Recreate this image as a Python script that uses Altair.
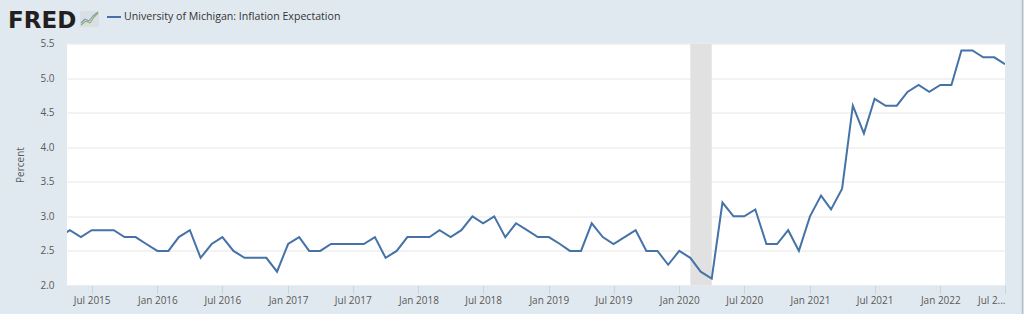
import altair as alt
import pandas as pd

# Monthly observations (first of month), Apr 2015 - Jul 2022
start_month = "2015-04-01"
values = [
    # 2015 Apr-Dec
    2.7, 2.8, 2.7, 2.8, 2.8, 2.8, 2.7, 2.7, 2.6,
    # 2016
    2.5, 2.5, 2.7, 2.8, 2.4, 2.6, 2.7, 2.5, 2.4, 2.4, 2.4, 2.2,
    # 2017
    2.6, 2.7, 2.5, 2.5, 2.6, 2.6, 2.6, 2.6, 2.7, 2.4, 2.5, 2.7,
    # 2018
    2.7, 2.7, 2.8, 2.7, 2.8, 3.0, 2.9, 3.0, 2.7, 2.9, 2.8, 2.7,
    # 2019
    2.7, 2.6, 2.5, 2.5, 2.9, 2.7, 2.6, 2.7, 2.8, 2.5, 2.5, 2.3,
    # 2020
    2.5, 2.4, 2.2, 2.1, 3.2, 3.0, 3.0, 3.1, 2.6, 2.6, 2.8, 2.5,
    # 2021
    3.0, 3.3, 3.1, 3.4, 4.6, 4.2, 4.7, 4.6, 4.6, 4.8, 4.9, 4.8,
    # 2022 Jan-Jul
    4.9, 4.9, 5.4, 5.4, 5.3, 5.3, 5.2,
]
dates = pd.date_range(start_month, periods=len(values), freq="MS").strftime("%Y-%m-%d").tolist()

recession_start = ["2020-02-01"]
recession_end = ["2020-04-01"]

x_domain = ["2015-04-23", "2022-07-01"]
tick_dates = [f"{y}-{m}-01" for y in range(2015, 2023) for m in ("01", "07")][1:]
y_ticks = [2.0, 2.5, 3.0, 3.5, 4.0, 4.5, 5.0, 5.5]

series_name = "University of Michigan: Inflation Expectation"

df = pd.DataFrame({"date": dates, "value": values})
rec = pd.DataFrame({"start": recession_start, "end": recession_end})

W, H = 938, 242
LEFT, TOP = 67, 43.5

x_scale = alt.Scale(domain=x_domain)
y_scale = alt.Scale(domain=[2.0, 5.5], nice=False, zero=False)

label_color = "#595959"
font = "Open Sans"

x_axis = alt.Axis(
    values=tick_dates,
    format="%b %Y",
    labelExpr="timeFormat(datum.value, '%Y-%m') == '2022-07' ? 'Jul 2...' : timeFormat(datum.value, '%b %Y')",
    title=None,
    grid=False,
    domain=False,
    ticks=True,
    tickSize=8,
    tickColor="#c9d4df",
    labelPadding=2,
    labelFontSize=10,
    labelFont=font,
    labelColor=label_color,
    labelOverlap=False,
    labelFlush=True,
)

y_axis = alt.Axis(
    values=y_ticks,
    format=".1f",
    title="Percent",
    titleFont=font,
    titleFontSize=10,
    titleFontWeight="normal",
    titleColor=label_color,
    titleAngle=-90,
    titleX=-44,
    titleY=H / 2,
    titleAlign="center",
    titleBaseline="alphabetic",
    grid=True,
    gridColor="#e6e6e6",
    gridWidth=1,
    domain=False,
    ticks=False,
    labelPadding=13,
    labelFontSize=10,
    labelFont=font,
    labelColor=label_color,
)

shade = alt.Chart(rec).mark_rect(color="#e1e1e1", clip=True).encode(
    x=alt.X("start:T", scale=x_scale, axis=x_axis),
    x2="end:T",
    y=alt.value(0),
    y2=alt.value(H),
)

line = alt.Chart(df).mark_line(color="#4572a7", strokeWidth=2, clip=True).encode(
    x=alt.X("date:T", scale=x_scale, axis=x_axis),
    y=alt.Y("value:Q", scale=y_scale, axis=y_axis),
)

# Header: FRED logo text, small icon, legend entry
hdr = pd.DataFrame({"t": ["FRED"]})
logo = alt.Chart(hdr).mark_text(
    font="DejaVu Sans", fontSize=23, fontWeight="bold", color="#231f20",
    align="left", baseline="alphabetic",
).encode(text="t:N", x=alt.value(8 - LEFT), y=alt.value(27.5 - TOP))

icon_bg = alt.Chart(hdr).mark_rect(color="#d9dfe5").encode(
    x=alt.value(80 - LEFT), x2=alt.value(99 - LEFT),
    y=alt.value(11 - TOP), y2=alt.value(27 - TOP),
)


def seg(x1, y1, x2, y2, color):
    return alt.Chart(hdr).mark_rule(color=color, strokeWidth=1.2).encode(
        x=alt.value(x1 - LEFT), x2=alt.value(x2 - LEFT),
        y=alt.value(y1 - TOP), y2=alt.value(y2 - TOP),
    )


green_pts = [(81, 25), (86, 21), (90, 23), (94, 17), (98, 13)]
blue_pts = [(81, 23), (85, 19), (89, 21), (93, 16), (98, 12)]
icon_layers = []
for pts, col in ((blue_pts, "#7c9cc4"), (green_pts, "#8db35a")):
    for (a, b), (c, d) in zip(pts[:-1], pts[1:]):
        icon_layers.append(seg(a, b, c, d, col))

leg_line = alt.Chart(hdr).mark_rule(color="#4572a7", strokeWidth=2).encode(
    x=alt.value(107 - LEFT), x2=alt.value(121 - LEFT),
    y=alt.value(17 - TOP), y2=alt.value(17 - TOP),
)
leg_text = alt.Chart(pd.DataFrame({"t": [series_name]})).mark_text(
    font=font, fontSize=10.6, color="#333333", align="left", baseline="middle",
).encode(text="t:N", x=alt.value(124 - LEFT), y=alt.value(17 - TOP))

border = alt.Chart(hdr).mark_rule(color="#b9c2cb", strokeWidth=1.5).encode(
    x=alt.value(1022.5 - LEFT), x2=alt.value(1022.5 - LEFT),
    y=alt.value(-TOP), y2=alt.value(314 - TOP),
)

chart = alt.layer(
    shade, line, logo, icon_bg, *icon_layers, leg_line, leg_text, border
).properties(
    width=W,
    height=H,
    padding={"left": LEFT, "top": TOP, "right": 1024 - LEFT - W, "bottom": 314 - TOP - H},
    autosize=alt.AutoSizeParams(type="none"),
    background="#e1e9f0",
).configure_view(fill="white", stroke=None)

chart.save("out.html", embed_options={"renderer": "svg", "actions": False})
